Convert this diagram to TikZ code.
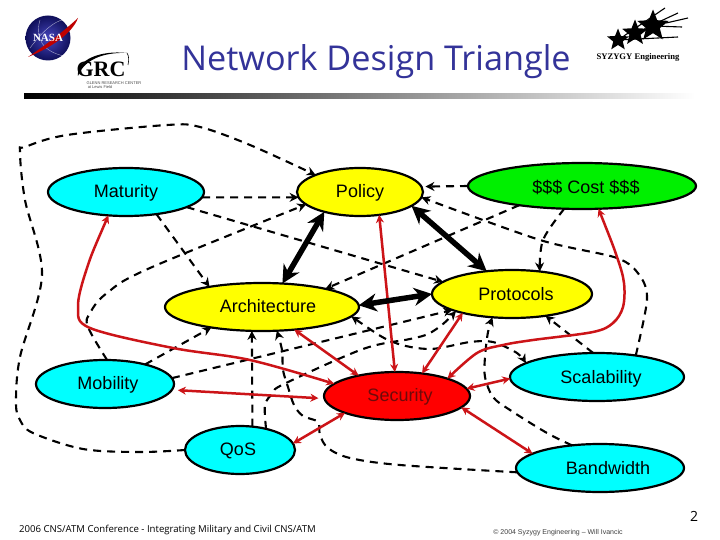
\documentclass[tikz,border=0pt]{standalone}
\usepackage{fontspec}
\setmainfont{Liberation Sans}
\newfontfamily\serifface{Liberation Serif}
\newfontfamily\uiface{Open Sans}
\usetikzlibrary{shapes.geometric,arrows.meta}
\definecolor{tcyan}{HTML}{00FFFF}
\definecolor{tyellow}{HTML}{FFFF00}
\definecolor{tgreen}{HTML}{00F000}
\definecolor{tred}{HTML}{FF0000}
\definecolor{lred}{HTML}{CC1418}
\definecolor{titleblue}{HTML}{333399}
\tikzset{
  ell/.style={ellipse,draw=black,line width=2.2pt,inner sep=0pt,outer sep=0pt},
  lab/.style={font=\fontsize{18}{20}\selectfont,inner sep=0pt},
  dsh/.style={draw=black,line width=2.1pt,dash pattern=on 8pt off 6pt,-{Stealth[length=9pt,width=9pt]}},
  dshb/.style={draw=black,line width=2.1pt,dash pattern=on 8pt off 6pt,{Stealth[length=9pt,width=9pt]}-{Stealth[length=9pt,width=9pt]}},
  redl/.style={draw=lred,line width=2.5pt,{Stealth[length=8pt,width=8pt]}-{Stealth[length=8pt,width=8pt]}},
  thick2/.style={draw=black,line width=5.5pt,{Stealth[length=18pt,width=18pt]}-{Stealth[length=18pt,width=18pt]}},
  starn/.style={star,star points=5,star point ratio=2.3,fill=black,inner sep=0pt,outer sep=0pt},
  starln/.style={draw=black,line width=1.1pt}
}
\begin{document}
\begin{tikzpicture}[x=1pt,y=-1pt]
\useasboundingbox (0,0) rectangle (720,540);
\fill[white] (0,0) rectangle (720,540);

% NASA logo
\shade[inner color={rgb,255:red,70;green,70;blue,190},outer color={rgb,255:red,15;green,15;blue,90}] (48,38) circle (22.5);
\draw[white,line width=.4pt,opacity=.6] (40,20) .. controls (34,40) and (45,52) .. (64,56);
\draw[white,line width=.4pt,opacity=.6] (30,48) .. controls (45,28) and (55,22) .. (62,20);
\fill[red!75!black] (28,57) .. controls (50,42) and (65,30) .. (78,18) .. controls (72,34) and (50,48) .. (28,57) -- cycle;
\node[inner sep=0pt,text=white,font=\bfseries\fontsize{11}{12}\selectfont\serifface] (nasa) at (48,38) {NASA};

% GRC logo
\fill[black] (78,76) .. controls (76,60) and (100,50) .. (127,53) .. controls (103,52) and (84,60) .. (78,76) -- cycle;
\draw[black,line width=.6pt] (127,53) .. controls (129,56) and (129,60) .. (128,65);
\node[inner sep=0pt,font=\bfseries\fontsize{22}{24}\selectfont\serifface] (grc) at (101,69.5) {GRC};
\node[inner sep=0pt,font=\fontsize{4}{4}\selectfont,text=black!70] (grca) at (114,83) {GLENN RESEARCH CENTER};
\node[inner sep=0pt,font=\fontsize{4}{4}\selectfont,text=black!70] (grcb) at (100,87.5) {at Lewis Field};

% Title and rule
\node[inner sep=0pt,text=titleblue,font=\fontsize{34.2}{40}\selectfont\uiface] (title) at (376,62) {Network Design Triangle};
\shade[left color=black,middle color={rgb,255:red,170;green,80;blue,80},right color=white] (24,94) rectangle (695,99);

% Syzygy logo
\node[starn,minimum size=33pt] (s1) at (653,26) {};
\node[starn,minimum size=27pt] (s2) at (635,33) {};
\node[starn,minimum size=23pt] (s3) at (618,40) {};
\draw[starln] (s3) -- (665,8);
\draw[starln] (s2) -- (678,13);
\draw[starln] (s1) -- (688,18);
\draw[starln] (s1) -- (682,27);
\draw[starln] (s3) -- (678,37);
\node[inner sep=0pt,font=\bfseries\fontsize{8.6}{10}\selectfont\serifface] (syz) at (638,57) {SYZYGY Engineering};

% Ellipses
\node[ell,fill=tcyan,minimum width=156pt,minimum height=48pt] (mat) at (126,192) {};
\node[ell,fill=tyellow,minimum width=126pt,minimum height=48pt] (pol) at (360,192) {};
\node[ell,fill=tgreen,minimum width=228pt,minimum height=46pt] (cost) at (582,186) {};
\node[ell,fill=tyellow,minimum width=194pt,minimum height=48pt] (arc) at (262,307) {};
\node[ell,fill=tyellow,minimum width=160pt,minimum height=48pt] (pro) at (512,294) {};
\node[ell,fill=tcyan,minimum width=138pt,minimum height=48pt] (mob) at (105,384) {};
\node[ell,fill=tred,minimum width=146pt,minimum height=48pt] (sec) at (397,396) {};
\node[ell,fill=tcyan,minimum width=174pt,minimum height=48pt] (sca) at (597,377) {};
\node[ell,fill=tcyan,minimum width=110pt,minimum height=48pt] (qos) at (240,450) {};
\node[ell,fill=tcyan,minimum width=168pt,minimum height=48pt] (ban) at (600,468) {};

\node[lab] (tmat) at (126,192.5) {Maturity};
\node[lab] (tpol) at (360,193) {Policy};
\node[lab] (tcost) at (586,187) {\$\$\$ Cost \$\$\$};
\node[lab] (tarc) at (268,306.5) {Architecture};
\node[lab] (tpro) at (516,294) {Protocols};
\node[lab] (tmob) at (108,385) {Mobility};
\node[lab,text={rgb,255:red,110;green,10;blue,10}] (tsec) at (400,397) {Security};
\node[lab] (tsca) at (601,379) {Scalability};
\node[lab] (tqos) at (238,451) {QoS};
\node[lab] (tban) at (608,468) {Bandwidth};

% Dashed connectors
\draw[dsh] plot[smooth,tension=.55] coordinates {(qos.180) (140,452) (83,449) (33,433) (20,420) (16,403) (20,357) (42,275) (25,200) (20,152) (25,147) (67,135) (167,125) (200,127) (250,145) (pol.159)};
\draw[dsh] (mat.-4.5) -- (pol.185);
\draw[dsh] (mat.-14.4) -- (pro.170);
\draw[dsh] (mat.-36.6) -- (arc.159);
\draw[dsh] (mob.26) -- (arc.202);
\draw[dsh] (mob.5) -- (pro.195);
\draw[dsh] (qos.62) -- (arc.247);
\draw[dsh] plot[smooth,tension=.55] coordinates {(qos.39) (265,405) (273,393) (284,384) (363,349) (410,339) (428,334) (443,324) (pro.197.6)};
\draw[dsh] plot[smooth,tension=.55] coordinates {(ban.183) (400,465) (350,458) (328,448) (320,435) (318,422) (303,416) (294,405) (288,387) (283,370) (282,350) (arc.-58)};
\draw[dsh] plot[smooth,tension=.55] coordinates {(ban.141) (547,433) (510,410) (493,397) (485,377) (485,357) (488,332) (pro.230)};
\draw[dsh] (sca.99.5) -- (pro.-33);
\draw[dsh,shorten >=4pt] (cost.180) -- (pol.5.4);
\draw[dsh] plot[smooth,tension=.55] coordinates {(cost.232) (543,240) (pro.39.6)};
\draw[dsh] plot[smooth,tension=.5] coordinates {(sca.29) (647,300) (640,276) (617,258) (540,240) (pol.-5.4)};
\draw[dsh] (cost.197.7) -- (arc.16.5);
\draw[dsh] plot[smooth,tension=.6] coordinates {(mob.85) (88,327) (90,313) (107,293) (150,268) (pol.193)};
\draw[dshb] plot[smooth,tension=.5] coordinates {(arc.-6.6) (393,342) (430,349) (470,342) (493,342) (517,353) (sca.169)};

% Red connectors
\draw[redl] plot[smooth,tension=.55] coordinates {(mat.233) (87,268) (78,307) (90,328) (173,348) (250,360) (sec.169)};
\draw[redl,shorten >=6pt,shorten <=6pt] (mob.-5) -- (sec.182);
\draw[redl] (arc.-35) -- (sec.152);
\draw[redl] (pol.-50) -- (sec.95);
\draw[redl] (pro.201) -- (sec.42.6);
\draw[redl] plot[smooth,tension=.55] coordinates {(cost.-54) (617,257) (624,283) (623,307) (613,323) (593,332) (533,340) (503,345) (477,353) (sec.19)};
\draw[redl] (sca.181) -- (sec.6);
\draw[redl] (ban.168) -- (sec.-10);
\draw[redl] (qos.7) -- (sec.198);

% Thick black connectors
\draw[thick2] (pol.209.6) -- (arc.49);
\draw[thick2] (pol.-15) -- (pro.138);
\draw[thick2] (arc.1) -- (pro.180);

% Footers
\node[inner sep=0pt,font=\fontsize{9.6}{12}\selectfont\uiface] (foot) at (167.5,530) {2006 CNS/ATM Conference - Integrating Military and Civil CNS/ATM};
\node[inner sep=0pt,text=black!75,font=\fontsize{7}{9}\selectfont] (copy) at (558,533) {© 2004 Syzygy Engineering -- Will Ivancic};
\node[inner sep=0pt,font=\fontsize{14}{16}\selectfont\uiface] (pg) at (694,516) {2};
\end{tikzpicture}
\end{document}
